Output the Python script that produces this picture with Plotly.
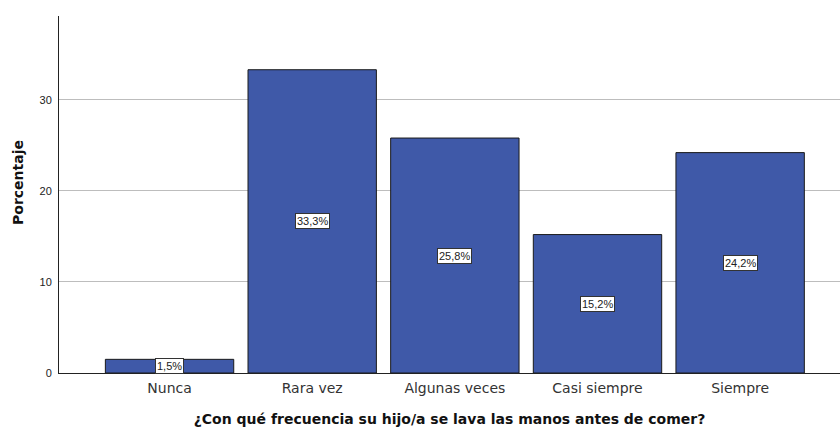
import plotly.graph_objects as go

categories = ["Nunca", "Rara vez", "Algunas veces", "Casi siempre", "Siempre"]
values = [1.5, 33.3, 25.8, 15.2, 24.2]
labels = ["1,5%", "33,3%", "25,8%", "15,2%", "24,2%"]
y_ticks = [0, 10, 20, 30]

fig = go.Figure()
fig.add_trace(go.Bar(
    x=list(range(len(categories))),
    y=values,
    width=0.9,
    marker=dict(color="#3F59A8", line=dict(color="#1a1a1a", width=1)),
    hoverinfo="skip",
))

for i, (v, lab) in enumerate(zip(values, labels)):
    fig.add_annotation(
        x=i, y=v / 2, text=lab, showarrow=False,
        font=dict(family="Liberation Sans, Arial, sans-serif", size=11, color="#222"),
        bgcolor="white", bordercolor="#333", borderwidth=1, borderpad=1,
    )

fig.add_annotation(
    xref="paper", yref="paper", x=-0.0525, y=0.535,
    text="<b>Porcentaje</b>", textangle=-90, showarrow=False,
    xanchor="center", yanchor="middle",
    font=dict(family="DejaVu Sans, sans-serif", size=14, color="#111"),
)

fig.update_layout(
    width=840, height=427,
    margin=dict(l=59, r=0, t=16, b=54),
    paper_bgcolor="white", plot_bgcolor="white",
    showlegend=False,
    font=dict(family="Liberation Sans, Arial, sans-serif", color="#222"),
    xaxis=dict(
        range=[-0.775, 4.70],
        tickmode="array",
        tickvals=list(range(len(categories))),
        ticktext=categories,
        showgrid=False, zeroline=False,
        showline=True, linecolor="#222", linewidth=1,
        ticks="outside", ticklen=2, tickcolor="rgba(0,0,0,0)",
        tickfont=dict(family="DejaVu Sans, sans-serif", size=14, color="#333"),
        title=dict(text="<b>¿Con qué frecuencia su hijo/a se lava las manos antes de comer?</b>",
                   font=dict(family="DejaVu Sans, sans-serif", size=14, color="#111"), standoff=20),
    ),
    yaxis=dict(
        range=[0, 39.2],
        tickmode="array", tickvals=y_ticks,
        showgrid=True, gridcolor="#BDBDBD", gridwidth=1,
        zeroline=False,
        showline=True, linecolor="#222", linewidth=1,
        ticks="outside", ticklen=4, tickcolor="rgba(0,0,0,0)",
        tickfont=dict(size=11, color="#222"),
    ),
    bargap=0.1,
)

fig.write_html("out.html", config={"displayModeBar": False},
               post_script="document.body.style.margin='0';document.body.style.overflow='hidden';")
